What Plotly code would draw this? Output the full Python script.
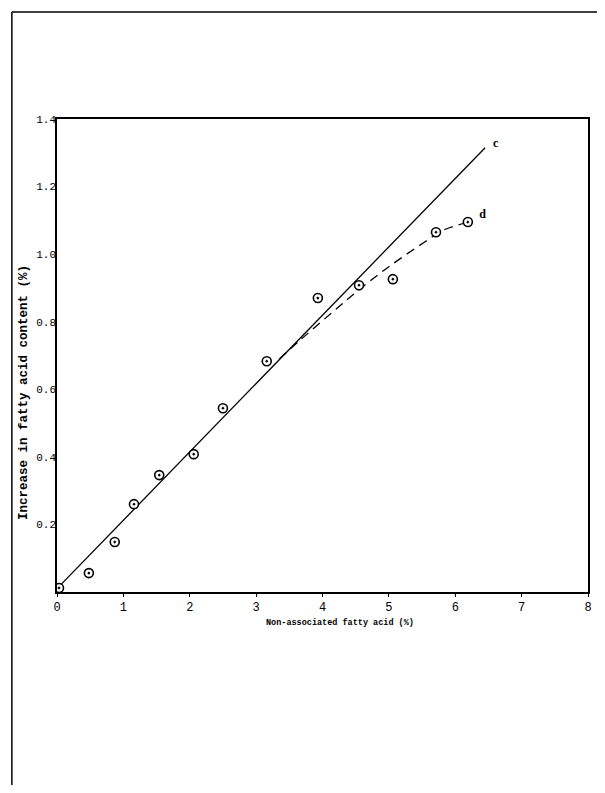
import plotly.graph_objects as go

# Observed points (non-associated fatty acid %, increase in fatty acid content %)
obs_x = [0.03, 0.48, 0.87, 1.16, 1.54, 2.06, 2.50, 3.16, 3.93, 4.55, 5.06, 5.71, 6.19]
obs_y = [0.012, 0.056, 0.148, 0.26, 0.346, 0.408, 0.544, 0.683, 0.87, 0.908, 0.926, 1.065, 1.095]

# Line c (straight)
c_x = [0.0, 6.45]
c_y = [0.01, 1.315]

# Curve d (dashed)
d_x = [3.35, 3.66, 4.16, 4.49, 4.98, 5.54, 5.81, 6.14]
d_y = [0.69, 0.745, 0.83, 0.885, 0.96, 1.036, 1.07, 1.092]

# Curve labels
lab_text = ["c", "d"]
lab_x = [6.57, 6.36]
lab_y = [1.325, 1.115]

x_ticks = [0, 1, 2, 3, 4, 5, 6, 7, 8]
y_ticks = [0.2, 0.4, 0.6, 0.8, 1.0, 1.2, 1.4]
y_tick_text = ["0.2", "0.4", "0.6", "0.8", "1.0", "1.2", "1.4"]

x_title = "Non-associated fatty acid (%)"
y_title = "Increase in fatty acid content (%)"

FONT = "Liberation Mono, Courier New, monospace"

fig = go.Figure()
fig.add_trace(go.Scatter(x=c_x, y=c_y, mode="lines",
                         line=dict(color="black", width=1.3), showlegend=False))
fig.add_trace(go.Scatter(x=d_x, y=d_y, mode="lines",
                         line=dict(color="black", width=1.3, dash="9px,6px", shape="spline"),
                         showlegend=False))
fig.add_trace(go.Scatter(x=obs_x, y=obs_y, mode="markers",
                         marker=dict(symbol="circle-dot", size=9, color="white",
                                     line=dict(color="black", width=1.6)),
                         showlegend=False))
fig.add_trace(go.Scatter(x=lab_x, y=lab_y, mode="text",
                         text=["<b>" + t + "</b>" for t in lab_text],
                         textposition="middle right",
                         textfont=dict(family="Liberation Serif, serif", size=12, color="black"),
                         showlegend=False))

fig.update_xaxes(range=[0, 8], tickvals=x_ticks, ticktext=[str(v) for v in x_ticks],
                 showline=True, linecolor="black", linewidth=1.5, mirror=True,
                 ticks="outside", ticklen=3, tickcolor="black", showgrid=False, zeroline=False,
                 tickfont=dict(family=FONT, size=12, color="black"))
fig.update_yaxes(range=[0, 1.4], tickvals=y_ticks, ticktext=y_tick_text,
                 showline=True, linecolor="black", linewidth=1.5, mirror=True,
                 ticks="", showgrid=False, zeroline=False, ticklabelstandoff=-3,
                 tickfont=dict(family=FONT, size=11, color="black"))

# Axis titles (placed as in the original, off-centre)
fig.add_annotation(text="<b>" + x_title + "</b>", xref="paper", yref="paper",
                   x=0.533, y=-0.0655, xanchor="center", yanchor="middle", showarrow=False,
                   font=dict(family=FONT, size=8.5, color="black"))
fig.add_annotation(text="<b>" + y_title + "</b>", xref="paper", yref="paper",
                   x=-0.062, y=0.421, xanchor="center", yanchor="middle", showarrow=False,
                   textangle=-90, font=dict(family=FONT, size=12.5, color="black"))

# Figure sized to the window minus the page's 8px body margin
fig.update_layout(width=597, height=777, plot_bgcolor="white", paper_bgcolor="white",
                  margin=dict(l=49, r=17, t=111, b=193))

# Outer frame of the scanned page (top and left edges)
fig.add_shape(type="line", xref="paper", yref="paper", x0=-0.085, x1=1.05, y0=1.226, y1=1.226,
              line=dict(color="black", width=1.5))
fig.add_shape(type="line", xref="paper", yref="paper", x0=-0.085, x1=-0.085, y0=1.226, y1=-0.43,
              line=dict(color="black", width=1.5))

fig.write_html("out.html")
